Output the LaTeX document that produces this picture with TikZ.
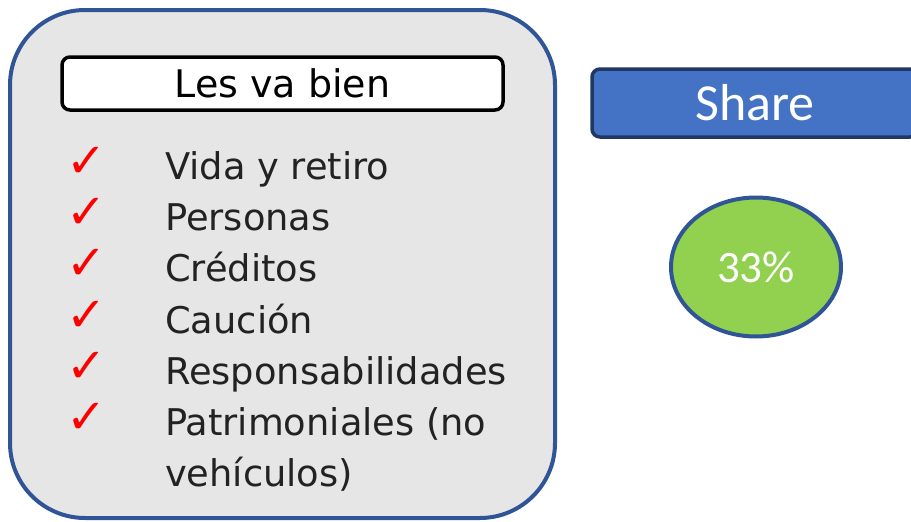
\documentclass[tikz,border=0pt]{standalone}
\usepackage{fontspec}
\setmainfont{DejaVu Sans}
\newfontfamily\calib{Carlito}
\usetikzlibrary{shapes.geometric}
\definecolor{panelgray}{HTML}{E7E6E6}
\definecolor{panelblue}{HTML}{2F5597}
\definecolor{sharefill}{HTML}{4472C4}
\definecolor{sharedraw}{HTML}{1F3864}
\definecolor{pctgreen}{HTML}{92D050}
\definecolor{itemtext}{HTML}{222222}
\tikzset{
  panel/.style={draw=panelblue, fill=panelgray, line width=4pt, rounded corners=75pt,
    minimum width=545pt, minimum height=508pt, inner sep=0pt},
  titlebox/.style={draw=black, fill=white, line width=3.5pt, rounded corners=8pt,
    minimum width=441pt, minimum height=53pt, inner sep=0pt,
    font=\fontsize{38}{44}\selectfont},
  listitem/.style={anchor=base west, inner sep=0pt, text=itemtext,
    font=\fontsize{36.8}{42}\selectfont},
  tick/.style={anchor=base, inner sep=0pt, text=red, text height=26pt, text depth=0pt,
    font=\fontsize{48}{52}\selectfont},
  sharebox/.style={draw=sharedraw, fill=sharefill, line width=3.5pt, rounded corners=8pt,
    minimum width=326pt, minimum height=68pt, inner sep=0pt, text=white,
    font=\calib\fontsize{52}{60}\selectfont},
  pct/.style={ellipse, draw=panelblue, fill=pctgreen, line width=4pt,
    minimum width=170pt, minimum height=139pt, inner sep=0pt, text=white,
    font=\calib\fontsize{45}{52}\selectfont}
}
\begin{document}
\begin{tikzpicture}[x=1pt,y=-1pt]
\useasboundingbox (0,0) rectangle (911,522);
\node[panel] (panel) at (282.5,264) {};
\node[titlebox] (title) at (282.5,83.5) {Les va bien};
\node[listitem] (i1) at (165,179) {Vida y retiro};
\node[listitem] (i2) at (165,230.5) {Personas};
\node[listitem] (i3) at (165,281.5) {Créditos};
\node[listitem] (i4) at (165,333) {Caución};
\node[listitem] (i5) at (165,384) {Responsabilidades};
\node[listitem] (i6) at (165,435) {Patrimoniales (no};
\node[listitem] (i7) at (165,486) {vehículos)};
\node[tick] (t1) at (87,177) {✓};
\node[tick] (t2) at (87,228.5) {✓};
\node[tick] (t3) at (87,279.5) {✓};
\node[tick] (t4) at (87,331) {✓};
\node[tick] (t5) at (87,382) {✓};
\node[tick] (t6) at (87,433) {✓};
\node[sharebox] (share) at (755,103) {Share};
\node[pct] (pctnode) at (756,267) {33\%};
\end{tikzpicture}
\end{document}
